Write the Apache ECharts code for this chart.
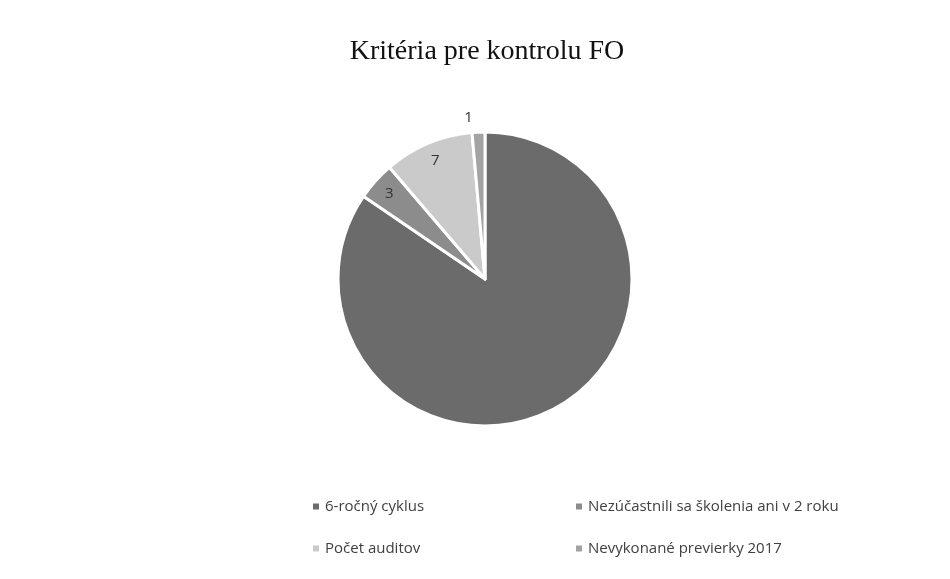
<!DOCTYPE html>
<html>
<head>
<meta charset="utf-8">
<title>Kritéria pre kontrolu FO</title>
<script src="https://cdn.jsdelivr.net/npm/echarts@6/dist/echarts.min.js"></script>
<style>
  html, body { margin: 0; padding: 0; background: #fff; }
  #chart { width: 950px; height: 579px; }
</style>
</head>
<body>
<div id="chart"></div>
<script>
  // hodnoty odčítané z grafu
  var categories = ['6-ročný cyklus', 'Nezúčastnili sa školenia ani v 2 roku', 'Počet auditov', 'Nevykonané previerky 2017'];
  var values = [60, 3, 7, 1];
  var colors = ['#6b6b6b', '#8c8c8c', '#cacaca', '#a3a3a3'];

  var myChart = echarts.init(document.getElementById('chart'));

  var pieData = categories.map(function (name, i) {
    return { name: name, value: values[i], itemStyle: { color: colors[i] } };
  });

  // labely blizko okraja (ako v Exceli) - priesvitny prstenec
  var labelData = categories.map(function (name, i) {
    var item = { name: name, value: values[i] };
    if (i === 0) item.label = { show: false };
    if (i === 3) item.label = { position: 'outside' };
    return item;
  });

  var legendText = { color: '#404040', fontSize: 15, fontFamily: 'Open Sans' };

  var option = {
    backgroundColor: '#fff',
    animation: false,
    title: {
      text: 'Kritéria pre kontrolu FO',
      left: 482,
      top: 33,
      textAlign: 'center',
      textStyle: { fontFamily: 'Liberation Serif', fontWeight: 'normal', fontSize: 28, color: '#111' }
    },
    legend: [{
      data: [categories[0], categories[2]],
      orient: 'vertical',
      left: 306,
      top: 494,
      itemGap: 27,
      icon: 'rect',
      itemWidth: 8,
      itemHeight: 8,
      textStyle: legendText
    }, {
      data: [categories[1], categories[3]],
      orient: 'vertical',
      left: 569,
      top: 494,
      itemGap: 27,
      icon: 'rect',
      itemWidth: 8,
      itemHeight: 8,
      textStyle: legendText
    }],
    series: [{
      type: 'pie',
      center: [485, 279],
      radius: 147,
      startAngle: 90,
      clockwise: true,
      label: { show: false },
      labelLine: { show: false },
      itemStyle: { borderColor: '#fff', borderWidth: 3 },
      data: pieData
    }, {
      type: 'pie',
      silent: true,
      center: [485, 279],
      radius: [104, 147],
      startAngle: 90,
      clockwise: true,
      itemStyle: { color: 'rgba(0,0,0,0)' },
      label: { show: true, position: 'inside', formatter: '{c}', color: '#333', fontSize: 15, fontFamily: 'Open Sans' },
      labelLine: { show: false, length: 14, length2: 0 },
      legendHoverLink: false,
      data: labelData
    }]
  };

  myChart.setOption(option);
</script>
</body>
</html>
